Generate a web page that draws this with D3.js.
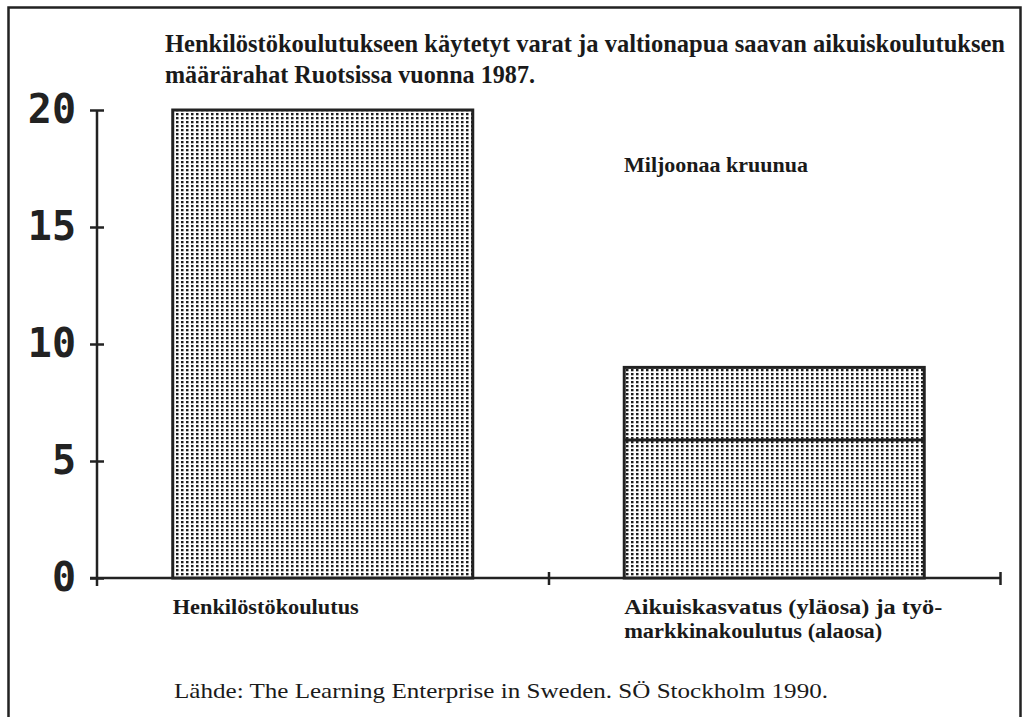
<!DOCTYPE html>
<html>
<head>
    <meta charset="utf-8" />
    <title>Henkilöstökoulutus</title>
    <script src="https://d3js.org/d3.v7.min.js" charset="utf-8"></script>
    <style>
        body { margin: 0; background: #fff; }
        .axis path, .axis line { fill: none; stroke: #222; stroke-width: 2.5px; }
        .axis text { font-family: "DejaVu Sans Mono", monospace; font-weight: bold; font-size: 40px; fill: #222; }
    </style>
</head>
<body>
<div id="graphic"></div>
<script>
    // data (millions of kronor)
    var categories = ["Henkilöstökoulutus", "Aikuiskasvatus"];
    var lowerValues = [20, 5.9];   // työmarkkinakoulutus (alaosa) in the 2nd bar
    var upperValues = [0, 3.1];    // aikuiskasvatus (yläosa)
    var yTicks = [0, 5, 10, 15, 20];

    var serif = "'Liberation Serif', 'Times New Roman', Tinos, 'DejaVu Serif', 'Noto Serif', serif";

    var W = 1028, H = 717;
    var svg = d3.select("#graphic").append("svg")
        .attr("width", W).attr("height", H);

    // pattern for the dotted fill
    var defs = svg.append("defs");
    var pat = defs.append("pattern")
        .attr("id", "dots")
        .attr("patternUnits", "userSpaceOnUse")
        .attr("width", 5).attr("height", 4);
    pat.append("rect").attr("width", 5).attr("height", 4).attr("fill", "#fff");
    pat.append("rect").attr("x", 1).attr("y", 1).attr("width", 2.5).attr("height", 2.3).attr("fill", "#1e1e1e");

    // outer frame (bottom runs off the page)
    svg.append("rect")
        .attr("x", 8.5).attr("y", 7.5)
        .attr("width", 1012).attr("height", 760)
        .attr("fill", "none").attr("stroke", "#222").attr("stroke-width", 2.5);

    var y = d3.scaleLinear().domain([0, 20]).range([578, 110]);

    var x = d3.scaleBand()
        .domain(categories)
        .range([97, 1000])
        .paddingInner(0.3355)
        .paddingOuter(0.3355 / 2);

    var xs = d3.scaleLinear().domain([0, 2]).range([97, 1000]);

    // y axis
    var gy = svg.append("g")
        .attr("class", "y axis")
        .attr("transform", "translate(97,0)")
        .call(d3.axisLeft(y).tickValues(yTicks).tickSizeOuter(0).tickSize(7).tickPadding(14));
    gy.selectAll(".tick line").attr("x1", -7).attr("x2", 7);
    gy.select(".domain").attr("d", "M0," + y(20) + "V" + (y(0) + 8));

    // x axis
    var gx = svg.append("g")
        .attr("class", "x axis")
        .attr("transform", "translate(0," + y(0) + ")")
        .call(d3.axisBottom(xs).tickValues([1, 2]).tickFormat("").tickSizeOuter(0));
    gx.selectAll(".tick line").attr("y1", -6).attr("y2", 7);
    gx.select(".domain").attr("d", "M" + (97 - 7) + ",0H" + xs(2));

    // bars
    var bars = svg.selectAll(".bar")
        .data(categories)
        .enter().append("g").attr("class", "bar");

    bars.append("rect")
        .attr("x", function (d) { return x(d); })
        .attr("width", x.bandwidth())
        .attr("y", function (d, i) { return y(lowerValues[i] + upperValues[i]); })
        .attr("height", function (d, i) { return y(0) - y(lowerValues[i] + upperValues[i]); })
        .attr("fill", "url(#dots)")
        .attr("stroke", "#222").attr("stroke-width", 3);

    bars.filter(function (d, i) { return upperValues[i] > 0; })
        .append("line")
        .attr("x1", function (d) { return x(d); })
        .attr("x2", function (d) { return x(d) + x.bandwidth(); })
        .attr("y1", function (d) { return y(lowerValues[categories.indexOf(d)]); })
        .attr("y2", function (d) { return y(lowerValues[categories.indexOf(d)]); })
        .attr("stroke", "#222").attr("stroke-width", 3);

    // texts
    function label(tx, ty, size, weight, len, str) {
        svg.append("text")
            .attr("x", tx).attr("y", ty)
            .attr("font-family", serif)
            .attr("font-size", size).attr("font-weight", weight)
            .attr("fill", "#1a1a1a")
            .attr("textLength", len).attr("lengthAdjust", "spacingAndGlyphs")
            .text(str);
    }

    label(165, 52, 25, "bold", 840, "Henkilöstökoulutukseen käytetyt varat ja valtionapua saavan aikuiskoulutuksen");
    label(165, 83, 25, "bold", 370, "määrärahat Ruotsissa vuonna 1987.");
    label(624, 172, 20, "bold", 184, "Miljoonaa kruunua");
    label(x(categories[0]), 614, 20, "bold", 186, "Henkilöstökoulutus");
    label(x(categories[1]), 614, 20, "bold", 318, "Aikuiskasvatus (yläosa) ja työ-");
    label(x(categories[1]), 638, 20, "bold", 258, "markkinakoulutus (alaosa)");
    label(174, 698, 22, "normal", 654, "Lähde: The Learning Enterprise in Sweden. SÖ Stockholm 1990.");
</script>
</body>
</html>
